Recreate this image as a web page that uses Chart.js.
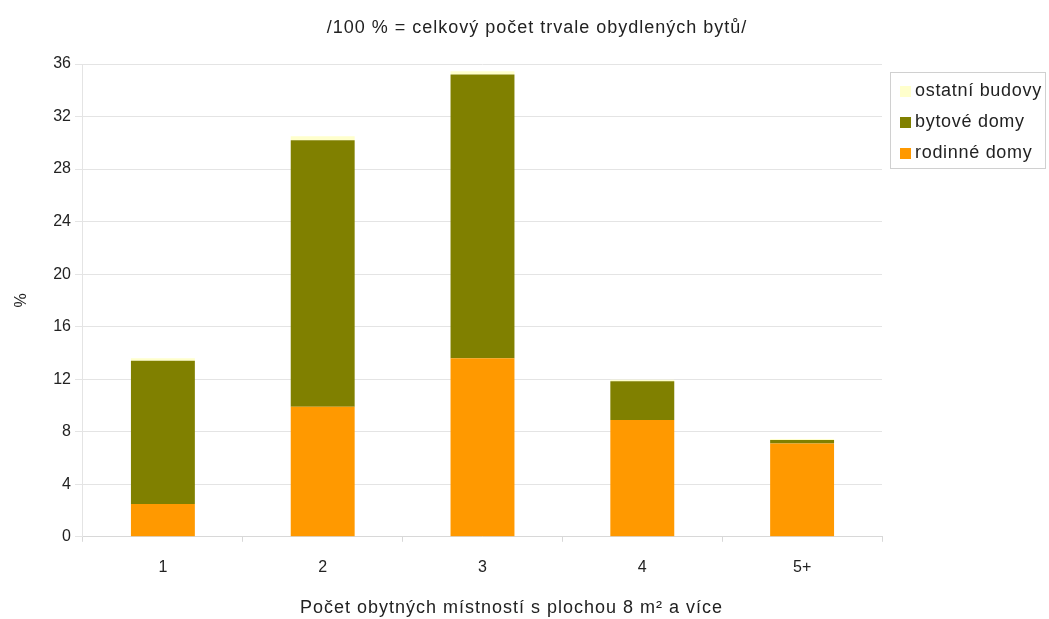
<!DOCTYPE html>
<html>
<head>
<meta charset="utf-8">
<script src="https://cdn.jsdelivr.net/npm/chart.js@4/dist/chart.umd.min.js"></script>
<style>
  html, body { margin: 0; padding: 0; background: #fff; }
  #wrap { width: 1049px; height: 619px; position: relative; }
</style>
</head>
<body>
<div id="wrap"><canvas id="c" width="1049" height="619"></canvas></div>
<script>
// Počet obytných místností – podíl bytů podle typu budovy (%)
const categories = ['1', '2', '3', '4', '5+'];
const rodinneDomy = [2.5, 9.9, 13.6, 8.9, 7.1];
const bytoveDomy = [10.9, 20.3, 21.6, 2.95, 0.28];
const ostatniBudovy = [0.2, 0.3, 0.25, 0.1, 0.06];
const yTicks = [0, 4, 8, 12, 16, 20, 24, 28, 32, 36];

const seriesNames = ['rodinné domy', 'bytové domy', 'ostatní budovy'];
const seriesColors = ['#FF9900', '#808000', '#FFFFCC'];
const chartTitle = '/100 % = celkový počet trvale obydlených bytů/';
const xTitle = 'Počet obytných místností s plochou 8 m² a více';

const FONT = '"Liberation Sans", Arial, sans-serif';
const TEXT = '#222222';

function spacedText(ctx, text, x, y, size, spacing, align) {
  ctx.font = size + 'px ' + FONT;
  if ('letterSpacing' in ctx) ctx.letterSpacing = spacing + 'px';
  ctx.textAlign = align;
  ctx.textBaseline = 'middle';
  ctx.fillText(text, x, y);
}

// Nadpis grafu a popis vodorovné osy
const titles = {
  id: 'titles',
  afterDraw(chart) {
    const ctx = chart.ctx;
    ctx.save();
    ctx.fillStyle = TEXT;
    spacedText(ctx, chartTitle, 537, 28, 18, 1, 'center');
    const xc = (chart.chartArea.left + chart.chartArea.right) / 2 + 29;
    spacedText(ctx, xTitle, xc, 608, 18, 1, 'center');
    ctx.restore();
  }
};

// Legenda v rámečku vpravo nahoře (pořadí shora: ostatní, bytové, rodinné)
const boxLegend = {
  id: 'boxLegend',
  afterDraw(chart) {
    const ctx = chart.ctx;
    const x = 890.5, y = 72.5, w = 155, h = 96;
    ctx.save();
    ctx.fillStyle = '#ffffff';
    ctx.fillRect(x, y, w, h);
    ctx.strokeStyle = '#d0d0d0';
    ctx.lineWidth = 1;
    ctx.strokeRect(x, y, w, h);
    const ds = chart.data.datasets.slice().reverse();
    ds.forEach((d, i) => {
      const cy = 91 + i * 31;
      ctx.fillStyle = d.backgroundColor;
      ctx.fillRect(900, cy - 5, 11, 11);
      ctx.fillStyle = TEXT;
      spacedText(ctx, d.label, 915, cy, 18, 0.7, 'left');
    });
    ctx.restore();
  }
};

new Chart(document.getElementById('c'), {
  type: 'bar',
  data: {
    labels: categories,
    datasets: [
      { label: seriesNames[0], data: rodinneDomy, backgroundColor: seriesColors[0] },
      { label: seriesNames[1], data: bytoveDomy, backgroundColor: seriesColors[1] },
      { label: seriesNames[2], data: ostatniBudovy, backgroundColor: seriesColors[2] }
    ]
  },
  options: {
    responsive: false,
    animation: false,
    devicePixelRatio: 1,
    layout: { padding: { left: 12, right: 167, top: 64, bottom: 26 } },
    datasets: {
      bar: { barPercentage: 0.4, categoryPercentage: 1.0, borderWidth: 0 }
    },
    plugins: {
      legend: { display: false },
      tooltip: { enabled: false },
      title: { display: false }
    },
    scales: {
      x: {
        stacked: true,
        grid: { display: true, drawOnChartArea: false, offset: true, color: '#d8d8d8', tickLength: 5 },
        border: { color: '#d8d8d8' },
        ticks: { color: TEXT, font: { family: FONT, size: 16 }, padding: 16 },
        title: { display: false }
      },
      y: {
        stacked: true,
        min: 0,
        max: 36,
        afterBuildTicks(axis) { axis.ticks = yTicks.map(v => ({ value: v })); },
        grid: { color: '#e4e4e4', tickLength: 8 },
        border: { color: '#e4e4e4' },
        ticks: { color: TEXT, font: { family: FONT, size: 16 }, padding: 4 },
        title: {
          display: true,
          text: '%',
          color: TEXT,
          font: { family: FONT, size: 16 },
          padding: { top: 0, bottom: 18 }
        }
      }
    }
  },
  plugins: [titles, boxLegend]
});
</script>
</body>
</html>
